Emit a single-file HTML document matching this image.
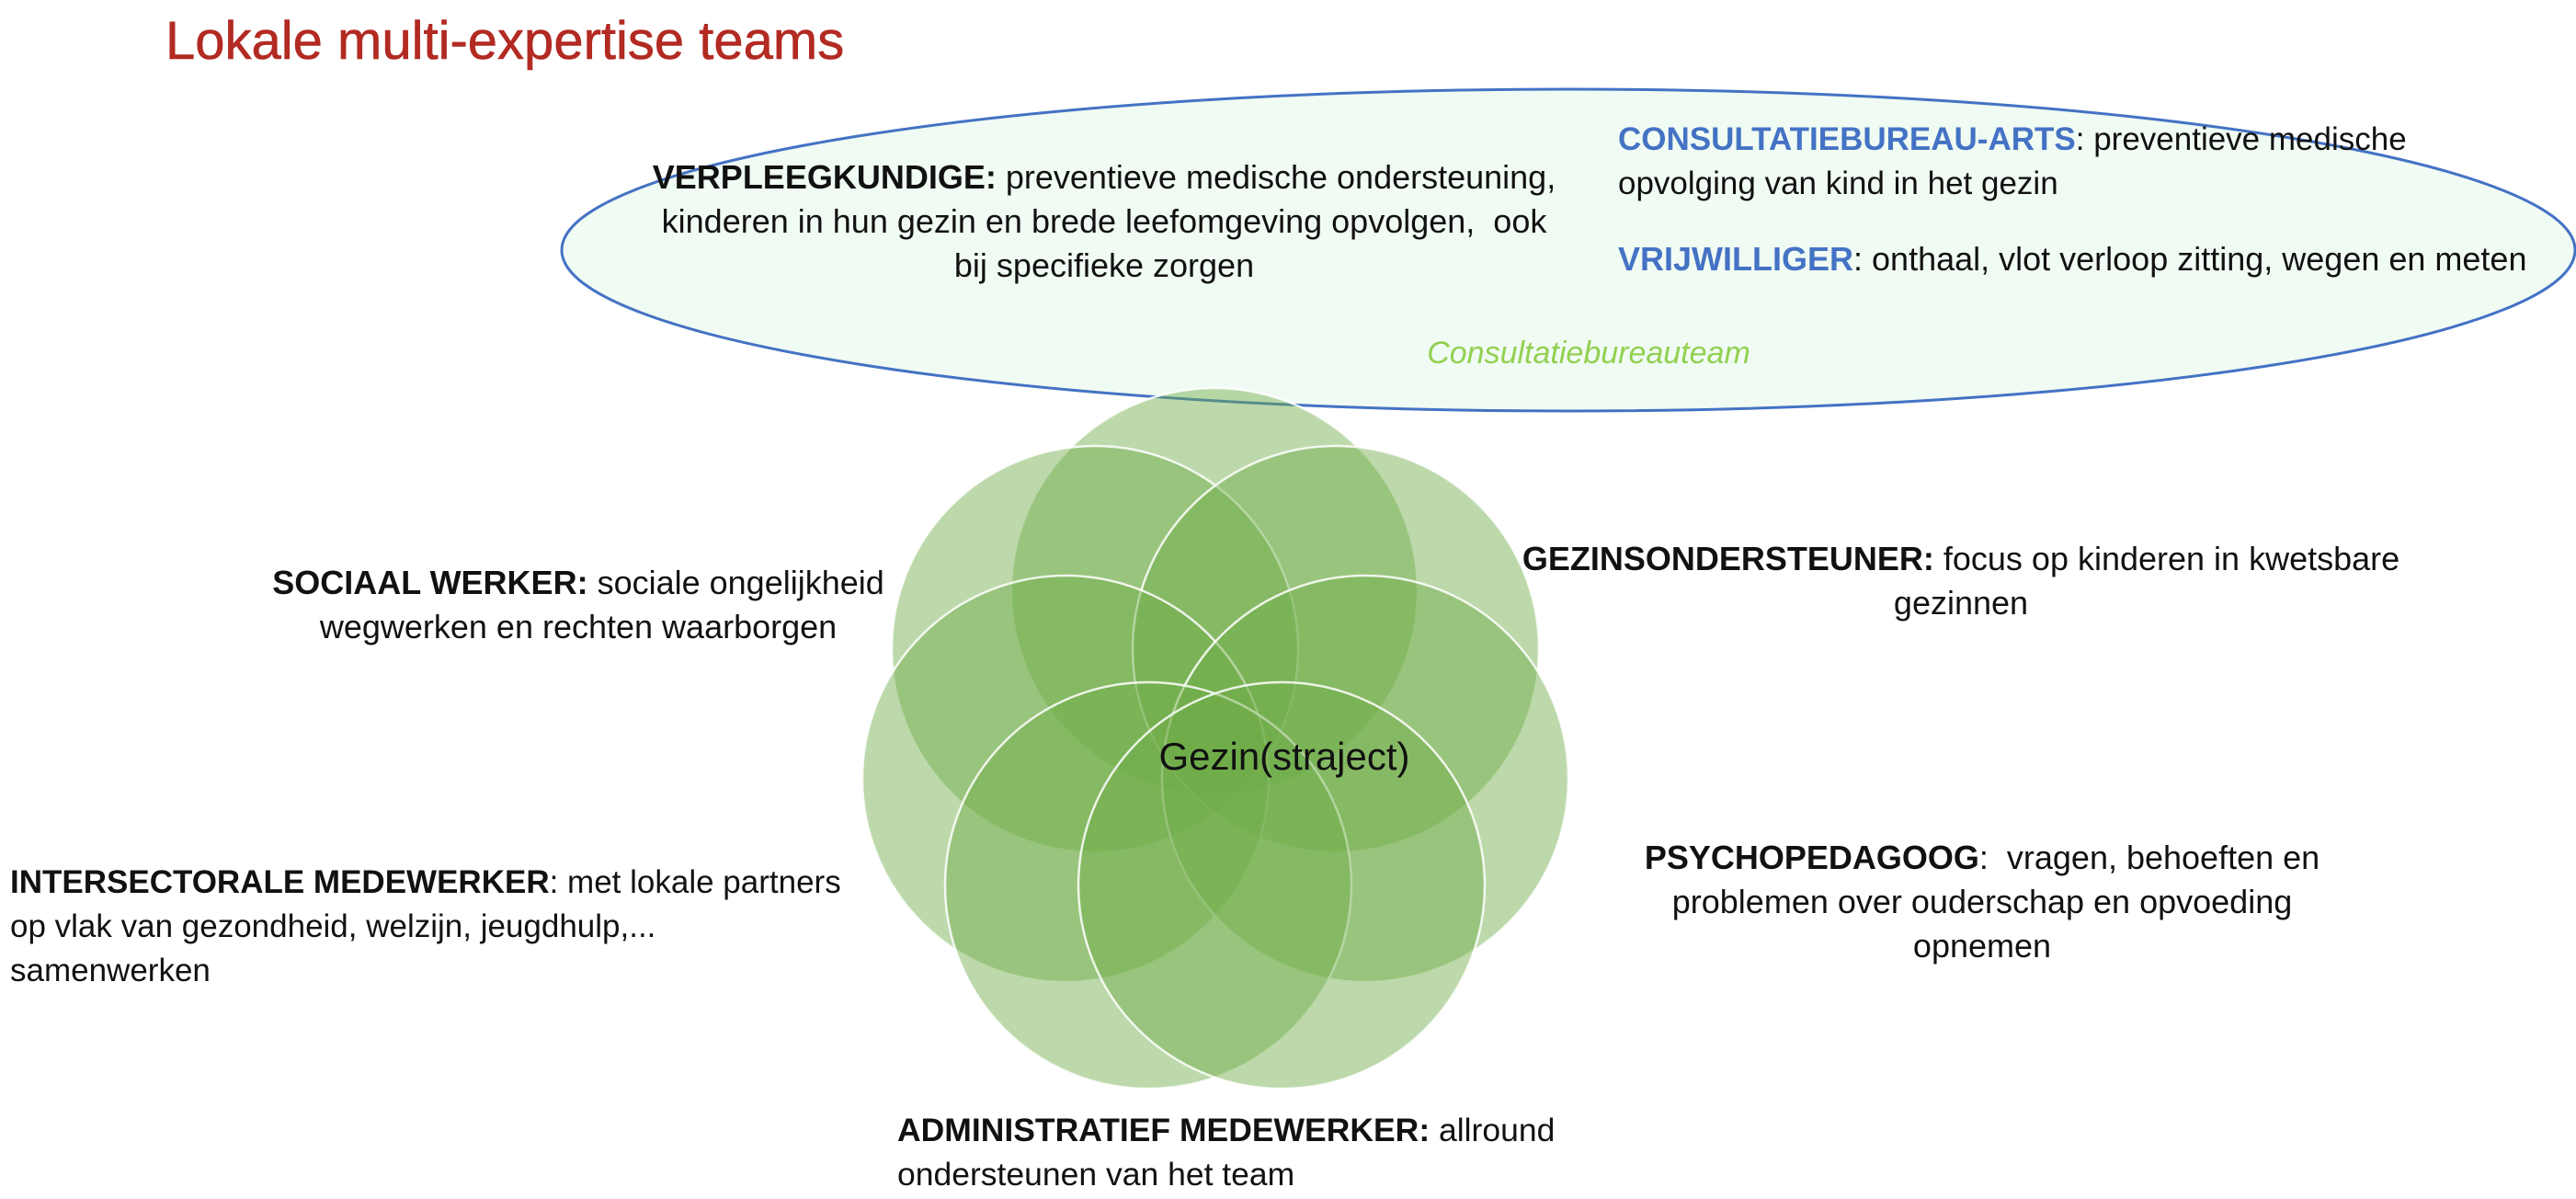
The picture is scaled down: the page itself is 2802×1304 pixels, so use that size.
<!DOCTYPE html>
<html><head><meta charset="utf-8">
<style>
html,body{margin:0;padding:0;background:#fff;}
body{width:2802px;height:1304px;position:relative;overflow:hidden;font-family:"Liberation Sans",sans-serif;color:#111;}
.t{position:absolute;font-size:35px;line-height:48px;white-space:nowrap;}
.c{text-align:center;transform:translateX(-50%);}
b{font-weight:bold;}
.blue{color:#4472c4;}
</style></head><body>
<svg width="2802" height="1304" style="position:absolute;left:0;top:0">
<ellipse cx="1706" cy="272" rx="1095" ry="175" fill="#f0fbf3" stroke="#4472c4" stroke-width="3"/>
<g fill="rgba(112,173,71,0.46)" stroke="rgba(255,255,255,0.85)" stroke-width="2.5">
<circle cx="1321" cy="643" r="221"/>
<circle cx="1191" cy="706" r="221"/>
<circle cx="1453" cy="706" r="221"/>
<circle cx="1159" cy="847" r="221"/>
<circle cx="1485" cy="847" r="221"/>
<circle cx="1249" cy="963" r="221"/>
<circle cx="1394" cy="963" r="221"/>
</g>
</svg>
<div class="t" style="left:180px;top:12px;font-size:58px;line-height:66px;color:#b22a22;-webkit-text-stroke:0.6px #b22a22;">Lokale multi-expertise teams</div>
<div class="t c" style="left:1201px;top:169px;font-size:36px;">
<b>VERPLEEGKUNDIGE:</b> preventieve medische ondersteuning,<br>kinderen in hun gezin en brede leefomgeving opvolgen,&nbsp; ook<br>bij specifieke zorgen</div>
<div class="t" style="left:1760px;top:128px;font-size:35px;"><b class="blue">CONSULTATIEBUREAU-ARTS</b>: preventieve medische<br>opvolging van kind in het gezin</div>
<div class="t" style="left:1760px;top:258px;font-size:36px;"><b class="blue">VRIJWILLIGER</b>: onthaal, vlot verloop zitting, wegen en meten</div>
<div class="t c" style="left:1728px;top:360px;font-style:italic;color:#92d050;font-size:34px;">Consultatiebureauteam</div>
<div class="t c" style="left:629px;top:610px;font-size:36px;"><b>SOCIAAL WERKER:</b> sociale ongelijkheid<br>wegwerken en rechten waarborgen</div>
<div class="t c" style="left:2133px;top:584px;font-size:36px;"><b>GEZINSONDERSTEUNER:</b> focus op kinderen in kwetsbare<br>gezinnen</div>
<div class="t c" style="left:2156px;top:909px;font-size:36px;"><b>PSYCHOPEDAGOOG</b>:&nbsp; vragen, behoeften en<br>problemen over ouderschap en opvoeding<br>opnemen</div>
<div class="t" style="left:11px;top:936px;font-size:35px;"><b>INTERSECTORALE MEDEWERKER</b>: met lokale partners<br>op vlak van gezondheid, welzijn, jeugdhulp,...<br>samenwerken</div>
<div class="t" style="left:976px;top:1205px;font-size:35.5px;"><b>ADMINISTRATIEF MEDEWERKER:</b> allround<br>ondersteunen van het team</div>
<div class="t c" style="left:1397px;top:798px;font-size:42px;line-height:50px;">Gezin(straject)</div>
</body></html>
